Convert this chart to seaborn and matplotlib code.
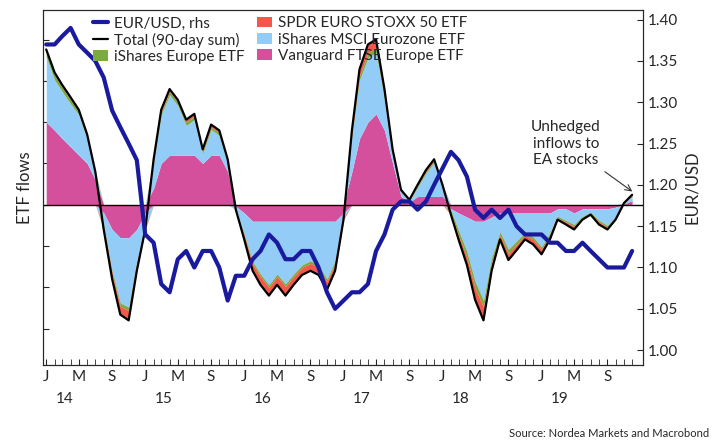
import pandas as pd
import numpy as np
import matplotlib
matplotlib.use("Agg")
import matplotlib.pyplot as plt
import seaborn as sns
from matplotlib.lines import Line2D

sns.set_style("ticks")
plt.rcParams['font.family'] = ['Lato', 'DejaVu Sans']

# monthly data, Jan 2014 - Dec 2019 (flows in arbitrary units, 0 = no flow)
dates = pd.date_range("2014-01-01", periods=72, freq="MS")

total = [18.8, 16, 14.5, 13, 11.5, 8.5, 4, -3, -9, -13.3, -14, -8,
         -3, 5.5, 11.5, 14, 12.7, 10.3, 11, 6.7, 9.7, 9, 5.5, -0.6,
         -4.2, -8, -9.7, -11, -9.7, -11, -9.7, -8.5, -8, -8.5, -10.3, -8,
         -1.8, 9, 16.4, 19.4, 20, 14, 6.7, 1.8, 0.6, 2.4, 4.2, 5.5,
         2.4, -1.2, -4.2, -7.3, -11.5, -14, -8, -4.2, -6.7, -5.5, -4.2, -4.8,
         -6, -4.2, -1.8, -2.4, -3, -1.8, -1.2, -2.4, -3, -1.8, 0.2, 1.2]
vanguard = [10, 9, 8, 7, 6, 5, 3, -1, -3, -4, -4, -3,
            -1, 2, 5, 6, 6, 6, 6, 5, 6, 6, 4, -0.2,
            -1, -2, -2, -2, -2, -2, -2, -2, -2, -2, -2, -2,
            -1, 4, 8, 10, 11, 9, 5, 1, 0.3, 1, 1, 1,
            1, -0.5, -1, -1.5, -2, -2, -1.5, -1, -1, -1, -1, -1,
            -1, -1, -0.5, -0.5, -1, -0.5, -0.5, -0.5, -0.5, -0.3, 0.1, 0.5]
ishares_eu = [0.6, 0.6, 0.5, 0.5, 0.4, 0.3, 0.2, -0.2, -0.3, -0.4, -0.4, -0.3,
              -0.1, 0.2, 0.3, 0.4, 0.4, 0.4, 0.4, 0.3, 0.3, 0.3, 0.2, 0,
              -0.2, -0.3, -0.3, -0.3, -0.3, -0.3, -0.3, -0.3, -0.3, -0.3, -0.3, -0.3,
              -0.1, 0.3, 0.5, 0.6, 0.6, 0.5, 0.3, 0.2, 0.1, 0.2, 0.2, 0.2,
              0.1, -0.3, -0.6, -0.7, -0.8, -0.8, -0.6, -0.4, -0.5, -0.4, -0.3, -0.3,
              -0.3, -0.3, -0.2, -0.2, -0.2, -0.2, -0.1, -0.2, -0.2, -0.1, 0, 0.1]
spdr = [0.3, 0.3, 0.3, 0.3, 0.2, 0.2, 0.1, -0.3, -0.7, -1, -1.2, -0.8,
        -0.2, 0.2, 0.3, 0.3, 0.3, 0.3, 0.3, 0.2, 0.3, 0.3, 0.2, 0,
        -0.5, -0.8, -1, -1, -1, -1.1, -1, -0.9, -0.9, -0.9, -1, -0.9,
        -0.2, 0.4, 0.8, 1, 1, 0.8, 0.4, 0.1, 0.1, 0.1, 0.2, 0.2,
        0.1, -0.2, -0.5, -0.9, -1.4, -1.6, -1, -0.5, -0.8, -0.7, -0.5, -0.6,
        -0.6, -0.5, -0.2, -0.3, -0.4, -0.2, -0.2, -0.3, -0.3, -0.2, 0, 0.1]
msci = [t - v - g - s for t, v, g, s in zip(total, vanguard, ishares_eu, spdr)]

eurusd = [1.37, 1.37, 1.38, 1.39, 1.37, 1.36, 1.35, 1.33, 1.29, 1.27, 1.25, 1.23,
          1.14, 1.13, 1.08, 1.07, 1.11, 1.12, 1.10, 1.12, 1.12, 1.10, 1.06, 1.09,
          1.09, 1.11, 1.12, 1.14, 1.13, 1.11, 1.11, 1.12, 1.12, 1.10, 1.07, 1.05,
          1.06, 1.07, 1.07, 1.08, 1.12, 1.14, 1.17, 1.18, 1.18, 1.17, 1.18, 1.20,
          1.22, 1.24, 1.23, 1.21, 1.17, 1.16, 1.17, 1.16, 1.17, 1.15, 1.14, 1.14,
          1.14, 1.13, 1.13, 1.12, 1.12, 1.13, 1.12, 1.11, 1.10, 1.10, 1.10, 1.12]

series = [("Vanguard FTSE Europe ETF", vanguard, "#d5509c"),
          ("iShares MSCI Eurozone ETF", msci, "#93cdf7"),
          ("iShares Europe ETF", ishares_eu, "#7aab3c"),
          ("SPDR EURO STOXX 50 ETF", spdr, "#f2594b")]

fig = plt.figure(figsize=(7.16, 4.44), dpi=100)
ax = fig.add_axes([0.06, 0.178, 0.838, 0.8])
ax2 = ax.twinx()

pos_base = np.zeros(len(dates))
neg_base = np.zeros(len(dates))
handles = {}
for name, vals, col in series:
    v = np.array(vals)
    p = np.clip(v, 0, None)
    n = np.clip(v, None, 0)
    h = ax.fill_between(dates, pos_base, pos_base + p, color=col, lw=0)
    ax.fill_between(dates, neg_base, neg_base + n, color=col, lw=0)
    pos_base += p
    neg_base += n
    handles[name] = h

df = pd.DataFrame({"date": dates, "total": total, "eurusd": eurusd})
sns.lineplot(data=df, x="date", y="total", ax=ax, color="black", lw=1.6, legend=False)
ax.axhline(0, color="black", lw=1)
sns.lineplot(data=df, x="date", y="eurusd", ax=ax2, color="#1a1a9e", lw=3, legend=False)

ax.set_ylim(-19.4, 23.6)
ax2.set_ylim(0.982, 1.412)
ax.set_xlim(pd.Timestamp("2013-12-20"), pd.Timestamp("2020-01-10"))
ax.set_yticks(np.arange(-15, 21, 5))
ax.set_yticklabels([])
ax.set_ylabel("ETF flows", fontsize=12)
ax2.set_ylabel("EUR/USD", fontsize=12)
ax2.set_yticks(np.arange(1.0, 1.41, 0.05))
ax2.set_yticklabels([f"{v:.2f}" for v in np.arange(1.0, 1.41, 0.05)], fontsize=11)
ax.set_xlabel("")
ax2.set_xlabel("")

ticks, labels = [], []
for yr in range(2014, 2020):
    for m, l in [(1, "J"), (5, "M"), (9, "S")]:
        ticks.append(pd.Timestamp(yr, m, 1))
        labels.append(l)
    ax.text(pd.Timestamp(yr, 3, 10), -0.075, str(yr)[2:], ha="center", va="top",
            fontsize=11, transform=ax.get_xaxis_transform())
ax.set_xticks(ticks)
ax.set_xticklabels(labels, fontsize=11)
ax.set_xticks(pd.date_range("2014-01-01", "2019-12-01", freq="MS"), minor=True)
ax.tick_params(axis="x", which="both", direction="in", length=4)
ax.tick_params(axis="y", direction="in", length=4)
ax2.tick_params(axis="y", direction="in", length=4)

leg_handles = [Line2D([], [], color="#1a1a9e", lw=3), handles["SPDR EURO STOXX 50 ETF"],
               Line2D([], [], color="black", lw=1.6), handles["iShares MSCI Eurozone ETF"],
               handles["iShares Europe ETF"], handles["Vanguard FTSE Europe ETF"]]
leg_labels = ["EUR/USD, rhs", "SPDR EURO STOXX 50 ETF", "Total (90-day sum)",
              "iShares MSCI Eurozone ETF", "iShares Europe ETF", "Vanguard FTSE Europe ETF"]
ax2.legend(leg_handles, leg_labels, ncol=3, frameon=False, fontsize=11,
           loc="upper left", bbox_to_anchor=(0.06, 1.02), handlelength=1.0,
           handletextpad=0.4, columnspacing=0.8, labelspacing=0.15)
# legend in reading order with 2 columns
ax2.get_legend().remove()
ax2.legend(leg_handles[0::2] + leg_handles[1::2], leg_labels[0::2] + leg_labels[1::2],
           ncol=2, frameon=False, fontsize=11, loc="upper left", bbox_to_anchor=(0.06, 1.02),
           handlelength=1.0, handletextpad=0.4, columnspacing=0.8, labelspacing=0.15)

ax2.annotate("Unhedged\ninflows to\nEA stocks", xy=(pd.Timestamp("2019-12-10"), 1.19),
             xytext=(pd.Timestamp("2019-04-01"), 1.25), ha="center", va="center",
             fontsize=11, arrowprops=dict(arrowstyle="->", color="#333333", lw=0.8))

fig.text(0.99, 0.015, "Source: Nordea Markets and Macrobond", ha="right", fontsize=8)
fig.savefig("out.png", dpi=100)
